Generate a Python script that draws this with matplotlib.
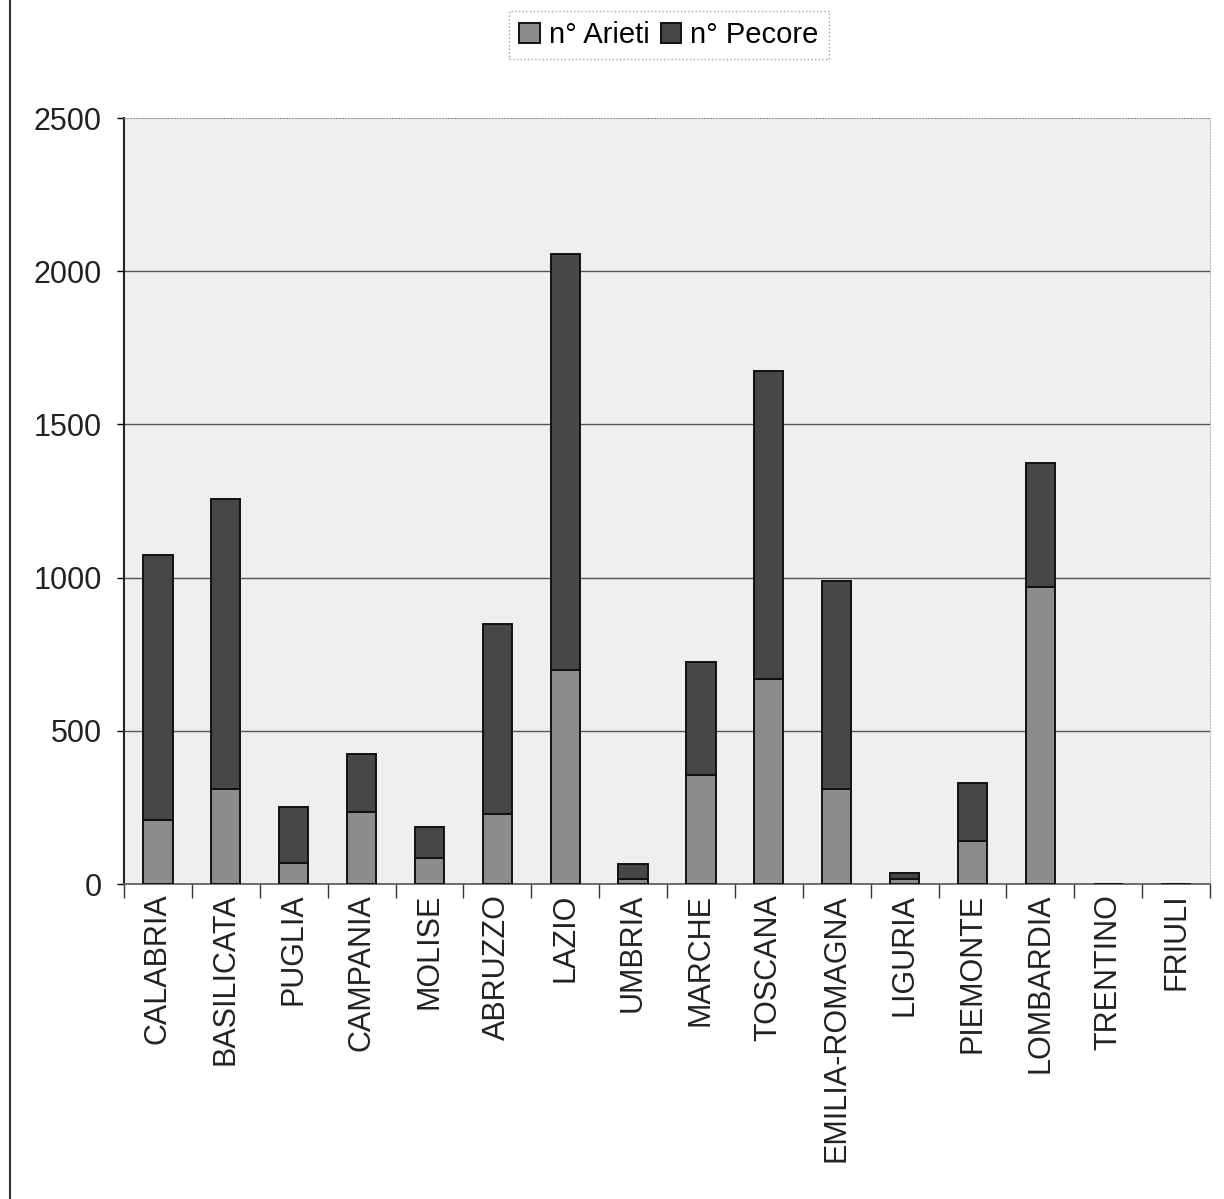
import numpy as np
import matplotlib
matplotlib.use("Agg")
from matplotlib import pyplot as plt
from matplotlib.lines import Line2D

plt.rcParams['font.family'] = ['Liberation Sans', 'DejaVu Sans']

# Dati
regioni = ["CALABRIA", "BASILICATA", "PUGLIA", "CAMPANIA", "MOLISE", "ABRUZZO",
           "LAZIO", "UMBRIA", "MARCHE", "TOSCANA", "EMILIA-ROMAGNA", "LIGURIA",
           "PIEMONTE", "LOMBARDIA", "TRENTINO", "FRIULI"]
arieti = [210, 310, 70, 235, 85, 230, 700, 15, 355, 670, 310, 15, 140, 970, 0, 0]
pecore = [865, 945, 180, 190, 100, 620, 1355, 50, 370, 1005, 680, 20, 190, 405, 0, 0]
y_ticks = [0, 500, 1000, 1500, 2000, 2500]

fig = plt.figure(figsize=(12.24, 11.99), dpi=100)
ax = fig.add_axes([124 / 1224, 1 - 884 / 1199, (1210 - 124) / 1224, (884 - 118) / 1199])
ax.set_facecolor('#efefef')

x = np.arange(len(regioni))
w = 0.43
ax.bar(x, arieti, w, color='#8c8c8c', edgecolor='#111111', linewidth=1.4,
       label='n° Arieti', zorder=3)
ax.bar(x, pecore, w, bottom=arieti, color='#474747', edgecolor='#111111', linewidth=1.4,
       label='n° Pecore', zorder=3)

ax.set_xlim(-0.5, len(regioni) - 0.5)
ax.set_ylim(0, 2500)
ax.set_yticks(y_ticks)
ax.set_yticklabels([str(v) for v in y_ticks], fontsize=22, color='#222222')
ax.tick_params(axis='y', length=5, width=1, pad=11)

# griglia
for v in y_ticks[1:-1]:
    ax.axhline(v, color='#555555', linewidth=1.0, zorder=1)

ax.set_xticks(x)
ax.set_xticklabels(regioni, rotation=90, fontsize=22, color='#222222', va='top')
ax.tick_params(axis='x', length=0, pad=7)
ax.set_xticks(np.arange(len(regioni) + 1) - 0.5, minor=True)
ax.tick_params(axis='x', which='minor', length=10, width=1, color='#333333')

ax.spines['left'].set_color('#222222')
ax.spines['left'].set_linewidth(1.5)
ax.spines['bottom'].set_color('#555555')
ax.spines['bottom'].set_linewidth(1.2)
ax.spines['top'].set_color('#999999')
ax.spines['top'].set_linestyle(':')
ax.spines['right'].set_color('#bbbbbb')
ax.spines['right'].set_linestyle(':')

leg = fig.legend(loc='center', bbox_to_anchor=(669 / 1224, 1 - 35 / 1199), ncol=2,
                 fontsize=21, frameon=True, fancybox=False, handlelength=0.7,
                 handleheight=0.7, handletextpad=0.3, columnspacing=0.4,
                 borderpad=0.35)
leg.get_frame().set_edgecolor('#888888')
leg.get_frame().set_linestyle(':')
leg.get_frame().set_linewidth(1.0)

# bordo sinistro della pagina
fig.add_artist(Line2D([10 / 1224, 10 / 1224], [0, 1], color='#333333', linewidth=1.5))

fig.savefig('out.png', dpi=100, facecolor='white')
